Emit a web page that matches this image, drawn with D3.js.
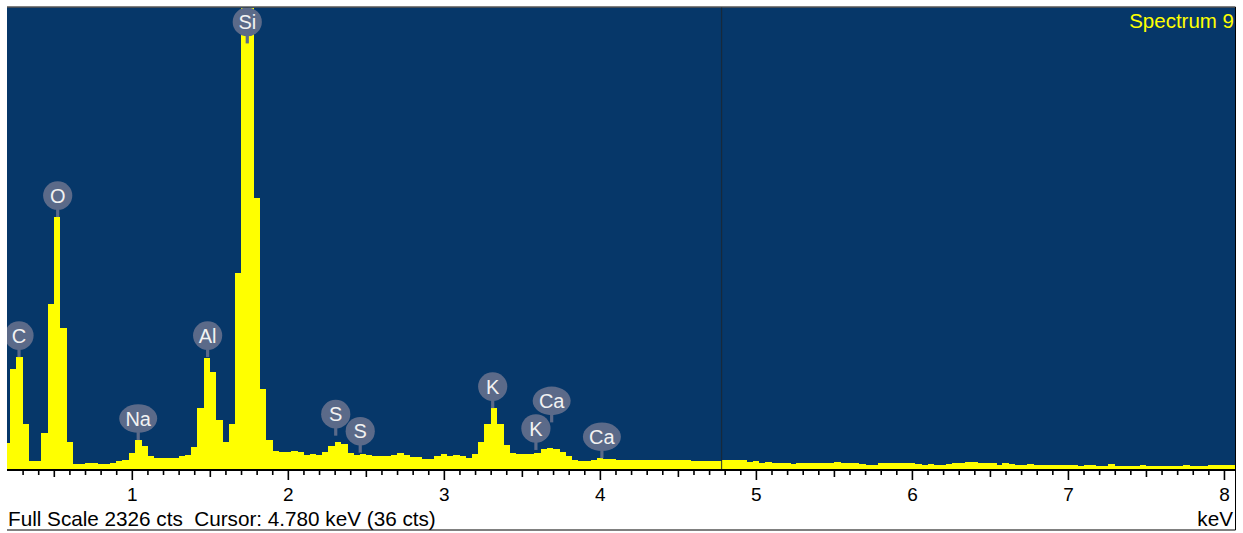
<!DOCTYPE html>
<html>
<head>
<meta charset="utf-8">
<script src="https://cdn.jsdelivr.net/npm/d3@7"></script>
<style>
  html, body { margin: 0; padding: 0; background: #ffffff; }
  svg { display: block; font-family: Arial, "Liberation Sans", sans-serif; }
</style>
</head>
<body>
<svg id="chart" width="1243" height="533"></svg>
<script>
// ---- data ----
const title = "Spectrum 9";
const fullScale = 2326;            // cts
const cursorKeV = 4.780;
const cursorCts = 36;
const channelStartKeV = 0.20;      // centre of first displayed channel
const channelWidthKeV = 0.04;
const counts = [
  133, 504, 563, 227, 40, 40, 181, 832, 1270, 711,
  136, 25, 25, 32, 32, 25, 25, 29, 39, 47,
  82, 146, 117, 64, 55, 55, 55, 55, 65, 71,
  111, 307, 559, 489, 247, 136, 227, 988, 2326, 2326,
  1366, 403, 146, 91, 86, 87, 91, 84, 72, 77,
  72, 86, 116, 136, 124, 82, 72, 77, 72, 67,
  67, 67, 72, 82, 71, 60, 60, 50, 50, 64,
  76, 67, 71, 67, 57, 76, 136, 227, 309, 227,
  121, 82, 74, 74, 76, 82, 99, 106, 102, 87,
  67, 47, 42, 42, 47, 55, 52, 49, 47, 47,
  44, 44, 44, 47, 47, 44, 44, 44, 44, 44,
  39, 39, 40, 40, 40, 44, 44, 44, 44, 34,
  42, 30, 35, 30, 30, 30, 25, 30, 30, 30,
  30, 30, 30, 35, 30, 30, 30, 25, 20, 20,
  30, 30, 30, 30, 30, 30, 25, 22, 25, 20,
  20, 25, 30, 30, 35, 35, 30, 30, 29, 20,
  32, 25, 20, 20, 25, 20, 20, 20, 20, 20,
  20, 20, 17, 20, 20, 17, 17, 25, 17, 17,
  17, 17, 20, 17, 17, 17, 17, 17, 17, 20,
  17, 17, 17, 20, 20, 20, 20, 20
];
const majorTicks = [1, 2, 3, 4, 5, 6, 7, 8];
const tickLabels = ["1", "2", "3", "4", "5", "6", "7", "8"];
const peakNames  = ["C", "O", "Na", "Al", "Si", "S", "S", "K", "K", "Ca", "Ca"];
const peakKeV    = [0.277, 0.525, 1.041, 1.486, 1.740, 2.307, 2.464, 3.313, 3.590, 3.691, 4.013];
const peakAnchor = [564, 1270, 146, 564, 2145, 168, 82, 307, 96, 235, 54];

(function () {
// ---- layout ----
const svg = d3.select("#chart");
const pLeft = 7, pRight = 1235.5, pTop = 7.5, pBase = 469;
const x = d3.scaleLinear().domain([0.2, 8.074]).range([pLeft, pRight]);
const y = d3.scaleLinear().domain([0, fullScale]).range([pBase, pTop]);

svg.append("defs").append("clipPath").attr("id", "plotclip")
  .append("rect").attr("x", pLeft).attr("y", pTop).attr("width", pRight - pLeft).attr("height", pBase - pTop);

// background
svg.append("rect").attr("x", pLeft).attr("y", pTop).attr("width", pRight - pLeft).attr("height", pBase - pTop)
  .attr("fill", "#063769");

const plot = svg.append("g").attr("clip-path", "url(#plotclip)");

const bins = counts.map((c, i) => ({ e: channelStartKeV + i * channelWidthKeV, c }));
plot.append("g").selectAll("rect").data(bins).join("rect")
  .attr("x", d => x(d.e - channelWidthKeV / 2))
  .attr("width", d => x(d.e + channelWidthKeV / 2) - x(d.e - channelWidthKeV / 2) + 0.4)
  .attr("y", d => y(Math.min(d.c, fullScale)))
  .attr("height", d => pBase - y(Math.min(d.c, fullScale)))
  .attr("fill", "#ffff00")
  .attr("shape-rendering", "crispEdges");

// cursor line
plot.append("line")
  .attr("x1", x(cursorKeV)).attr("x2", x(cursorKeV))
  .attr("y1", pTop).attr("y2", pBase)
  .attr("stroke", "#1c2530").attr("stroke-opacity", 0.8).attr("stroke-width", 1.2);

// peak labels
const labelColor = "#5b6a89";
const peaks = peakNames.map((n, i) => ({ n, e: peakKeV[i], a: peakAnchor[i] }));
const pg = plot.append("g").selectAll("g").data(peaks).join("g")
  .attr("transform", d => `translate(${x(d.e)},${y(d.a)})`);
pg.append("rect").attr("x", -1.6).attr("y", -8).attr("width", 3.2).attr("height", 8).attr("fill", labelColor);
pg.append("ellipse")
  .attr("cx", 0).attr("cy", -21.5)
  .attr("rx", d => d.n.length > 1 && d.n !== "Si" && d.n !== "Al" ? 19 : 14.6)
  .attr("ry", 14.3)
  .attr("fill", labelColor);
pg.append("text")
  .attr("x", 0).attr("y", -21.5).attr("dy", "0.36em")
  .attr("text-anchor", "middle")
  .attr("font-size", 20)
  .attr("fill", "#f2f2f2")
  .text(d => d.n);

// title
svg.append("text").attr("x", 1234).attr("y", 28).attr("text-anchor", "end")
  .attr("font-size", 20.5).attr("fill", "#ffff00").text(title);

// axis
const minor = d3.range(3, 81).map(i => i / 10).filter(v => Math.abs(v - Math.round(v)) > 1e-6);
const gMinor = svg.append("g").attr("transform", `translate(0,${pBase})`)
  .call(d3.axisBottom(x).tickValues(minor.filter(v => Math.abs(v * 2 - Math.round(v * 2)) > 1e-6)).tickSize(6).tickFormat(""));
const gHalf = svg.append("g").attr("transform", `translate(0,${pBase})`)
  .call(d3.axisBottom(x).tickValues(minor.filter(v => Math.abs(v * 2 - Math.round(v * 2)) < 1e-6)).tickSize(8).tickFormat(""));
const gMajor = svg.append("g").attr("transform", `translate(0,${pBase})`)
  .call(d3.axisBottom(x).tickValues(majorTicks).tickSize(11).tickPadding(8)
    .tickFormat((d, i) => tickLabels[i]));
[gMinor, gHalf, gMajor].forEach(g => {
  g.select(".domain").remove();
  g.selectAll(".tick line").attr("stroke", "#000").attr("stroke-width", 1.6);
});
gMajor.selectAll(".tick text").attr("font-size", 19).attr("fill", "#000").attr("font-family", "Arial, 'Liberation Sans', sans-serif");

svg.append("line").attr("x1", pLeft).attr("x2", pRight + 0.5).attr("y1", pBase + 1).attr("y2", pBase + 1)
  .attr("stroke", "#000").attr("stroke-width", 2.2);

// frame
svg.append("path")
  .attr("d", `M${pLeft},7 H${pRight} V530 H${pLeft}`)
  .attr("fill", "none").attr("stroke", "#000").attr("stroke-width", 1);

// footer text
svg.append("text").attr("x", 8).attr("y", 525.5).attr("font-size", 20.7).attr("fill", "#000")
  .style("white-space", "pre")
  .text(`Full Scale ${fullScale} cts  Cursor: ${cursorKeV.toFixed(3)} keV (${cursorCts} cts)`);
svg.append("text").attr("x", 1233).attr("y", 525.5).attr("text-anchor", "end")
  .attr("font-size", 20.7).attr("fill", "#000").text("keV");
})();
</script>
</body>
</html>
